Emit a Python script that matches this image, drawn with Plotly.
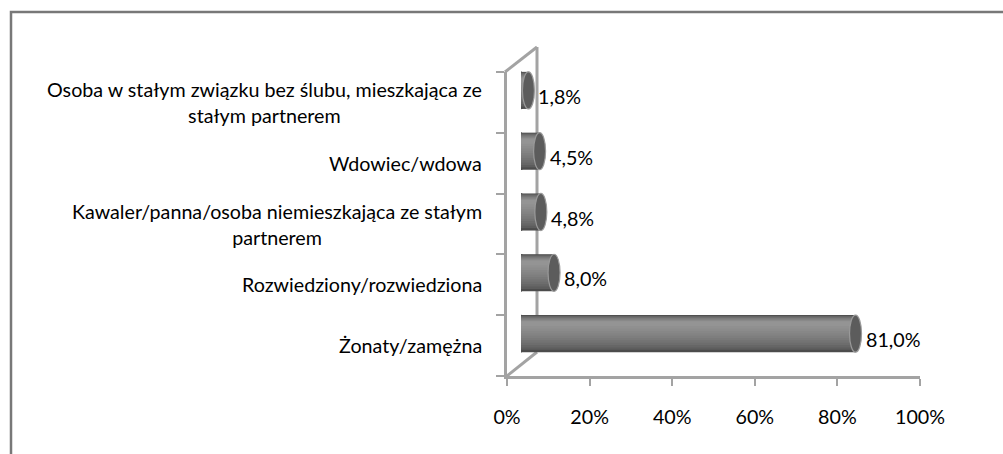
import plotly.graph_objects as go

# ---- data ----
categories = [
    "Żonaty/zamężna",
    "Rozwiedziony/rozwiedziona",
    "Kawaler/panna/osoba niemieszkająca ze stałym<br>partnerem",
    "Wdowiec/wdowa",
    "Osoba w stałym związku bez ślubu, mieszkająca ze<br>stałym partnerem",
]
values = [0.81, 0.08, 0.048, 0.045, 0.018]
tick_vals = [0, 0.2, 0.4, 0.6, 0.8, 1.0]
tick_text = ["0%", "20%", "40%", "60%", "80%", "100%"]

W, H = 1003, 454
FONT = "Lato"
FS = 19.7
AXC = "#a3a3a3"

def px_x(p):
    return p / W

def px_y(p):
    return 1 - p / H

n = len(categories)
pos = list(range(n))

fig = go.Figure()

# cylinder body: layered bars for a vertical shading gradient
bar_w = 0.61
n_layers = 12
c_out, c_in = 0x4c, 0x94
for k in range(n_layers):
    t = k / (n_layers - 1)
    f = 1 - 0.88 * t
    w = bar_w * f
    shift = (1 - f) * 0.5 * bar_w * 0.6
    g = int(round(c_out + (c_in - c_out) * (t ** 0.6)))
    col = f"#{g:02x}{g:02x}{g:02x}"
    fig.add_trace(go.Bar(
        x=values, y=pos, orientation="h",
        width=w, offset=-w / 2 + shift,
        marker=dict(color=col, line=dict(width=0)),
        xaxis="x2", yaxis="y2", hoverinfo="skip", showlegend=False,
    ))

shapes = []
cap_hw = 6 / 413.0  # half-width of ellipse cap in data units of x2
for v, i in zip(values, pos):
    shapes.append(dict(type="circle", xref="x2", yref="y2",
                       x0=-cap_hw, x1=cap_hw, y0=i - bar_w / 2, y1=i + bar_w / 2,
                       fillcolor="#707070", line=dict(color="#555555", width=1),
                       layer="below"))
    shapes.append(dict(type="circle", xref="x2", yref="y2",
                       x0=v - cap_hw, x1=v + cap_hw, y0=i - bar_w / 2, y1=i + bar_w / 2,
                       fillcolor="#5c5c5c", line=dict(color="#9a9a9a", width=1.2),
                       layer="above"))

# 3D wall outline
wall = [((505, 72), (537, 47)), ((537, 47), (537, 352)), ((507, 376), (537, 352))]
for (xa, ya), (xb, yb) in wall:
    shapes.append(dict(type="line", xref="paper", yref="paper",
                       x0=px_x(xa), y0=px_y(ya), x1=px_x(xb), y1=px_y(yb),
                       line=dict(color=AXC, width=3), layer="below"))

# outer border
shapes.append(dict(type="rect", xref="paper", yref="paper",
                   x0=px_x(11), y0=-0.05, x1=1.05, y1=px_y(12),
                   line=dict(color="#787878", width=2.5), fillcolor="rgba(0,0,0,0)"))

annotations = []
for c, i in zip(categories, pos):
    annotations.append(dict(text=c, xref="paper", yref="y", x=px_x(484), y=i,
                            xanchor="right", yanchor="middle", align="center",
                            showarrow=False, font=dict(family=FONT, size=FS, color="#000")))
for v, i in zip(values, pos):
    lab = f"{v * 100:.1f}".replace(".", ",") + "%"
    annotations.append(dict(text=lab, xref="x2", yref="y2", x=v, y=i,
                            xanchor="left", yanchor="middle", xshift=8, yshift=-6,
                            showarrow=False, font=dict(family=FONT, size=FS, color="#000")))

fig.update_layout(
    width=W, height=H, autosize=False,
    margin=dict(l=0, r=0, t=0, b=0, pad=0, autoexpand=False),
    paper_bgcolor="white", plot_bgcolor="rgba(0,0,0,0)",
    barmode="overlay", showlegend=False,
    font=dict(family=FONT, size=FS, color="#000"),
    xaxis=dict(domain=[px_x(507), px_x(920)], range=[0, 1],
               tickvals=tick_vals, ticktext=tick_text,
               showline=True, linecolor=AXC, linewidth=3,
               ticks="outside", ticklen=7, tickcolor=AXC, tickwidth=1.5,
               showgrid=False, zeroline=False, ticklabelstandoff=14,
               tickfont=dict(family=FONT, size=FS), anchor="y", fixedrange=True,
               automargin=False),
    yaxis=dict(domain=[px_y(376), px_y(72)], range=[-0.5, n - 0.5],
               tickvals=[k - 0.5 for k in range(n + 1)], showticklabels=False,
               showline=True, linecolor=AXC, linewidth=3,
               ticks="outside", ticklen=8, tickcolor=AXC, tickwidth=1.5,
               showgrid=False, zeroline=False, anchor="x", fixedrange=True,
               automargin=False),
    xaxis2=dict(domain=[px_x(521), px_x(934)], range=[0, 1], visible=False,
                anchor="y2", fixedrange=True),
    yaxis2=dict(domain=[px_y(364), px_y(60)], range=[-0.5, n - 0.5], visible=False,
                anchor="x2", fixedrange=True),
    shapes=shapes,
    annotations=annotations,
)

fig.write_html("out.html", config={"responsive": False, "displayModeBar": False},
               post_script="document.body.style.margin='0';document.body.style.overflow='hidden';")
